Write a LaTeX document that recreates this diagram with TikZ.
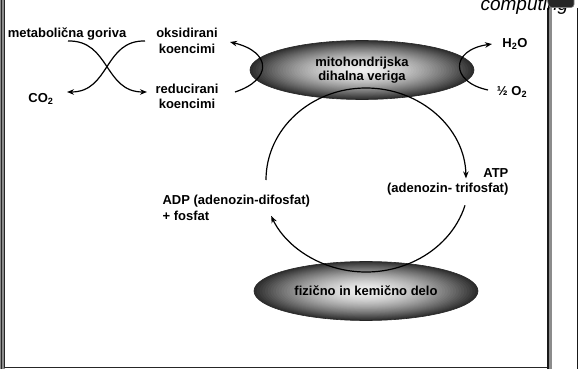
\documentclass[tikz,border=0pt]{standalone}
\usepackage{fontspec}
\setmainfont{Liberation Sans}
\usetikzlibrary{shapes,arrows.meta}

\tikzset{
  txt/.style={font=\fontsize{13}{15.5}\selectfont\bfseries, inner sep=0pt},
  oval/.style={ellipse, draw=black!85, line width=0.6pt,
    minimum width=224pt, minimum height=59pt, align=center,
    font=\fontsize{13}{13.5}\selectfont\bfseries}
}

\begin{document}
\begin{tikzpicture}[x=1pt, y=-1pt, line width=1.2pt, >={Stealth[length=7pt,width=5.5pt]}]
\useasboundingbox (0,0) rectangle (579,369);
\fill[white] (0,0) rectangle (579,369);

% slide frame
\fill[black!45] (0,-5) rectangle (5,369);
\draw[black!85, line width=1pt] (1,-5) -- (1,369);
\draw[black!85, line width=1pt] (4.5,-5) -- (4.5,367.5) -- (548,367.5);
\fill[black!45] (548,-5) rectangle (551.5,369);
\draw[black!90, line width=1.5pt] (548,8) -- (548,369);
\draw[black!90, line width=1pt] (577.8,8) -- (577.8,369);
\node[font=\fontsize{19}{19}\selectfont\itshape, anchor=base west, inner sep=0pt] (t) at (480,10.5) {computing};
\fill[black!85, draw=black!50, line width=0.6pt, rounded corners=3pt] (546,-6) -- (574,-6) -- (574,7.5) -- (549,7.5) -- cycle;

% shaded ovals
\coordinate (m1) at (362,70);
\coordinate (m2) at (366,291);
\foreach \m in {m1,m2} {
  \foreach \i in {0,...,40} {
    \pgfmathsetmacro{\s}{1-\i/41}
    \pgfmathsetmacro{\g}{6+76*\s^1.6}
    \pgfmathsetmacro{\rx}{112*\s}
    \pgfmathsetmacro{\ry}{29.5*\s}
    \fill[black!\g] (\m) ellipse[x radius=\rx pt, y radius=\ry pt];
  }
}

\node[txt, anchor=north] (1) at (67,27.6) {metabolična goriva};
\node[txt, anchor=north, align=center] (2) at (187,27.6) {oksidirani\\koencimi};
\node[txt, anchor=north, align=center] (3) at (187,83.3) {reducirani\\koencimi};
\node[txt, anchor=north] (4) at (41,92.5) {CO\textsubscript{2}};
\node[oval] (5) at (m1) {mitohondrijska\\dihalna veriga};
\node[txt, anchor=north] (6) at (515,37.6) {H\textsubscript{2}O};
\node[txt, anchor=north] (7) at (512,85.6) {½ O\textsubscript{2}};
\node[txt, anchor=north east, align=right] (8) at (509,167.5) {ATP\\(adenozin- trifosfat)};
\node[txt, anchor=north west, align=left] (9) at (162,194.5) {ADP (adenozin-difosfat)\\+ fosfat};
\node[oval] (10) at (m2) {fizično in kemično delo};

% arrow ends
\coordinate (c) at (366,180);
\coordinate (a) at (68,41);
\coordinate (b) at (147,92);
\coordinate (d) at (145,41);
\coordinate (e) at (67,92);
\coordinate (f) at (235,92);
\coordinate (g) at (230,42);
\coordinate (h) at (488,90);
\coordinate (k) at (492,44);

\draw[->] (a) .. controls (110,40) and (104,92) .. (b);
\draw[->] (d) .. controls (104,40) and (110,92) .. (e);
\draw[->] (f) .. controls (272,80) and (272,52) .. (g);
\draw[->] (h) .. controls (450,82) and (450,50) .. (k);

\draw[->] ([shift={(180:100pt and 92pt)}]c) arc[start angle=180, end angle=1, x radius=100pt, y radius=92pt];
\draw[->] ([shift={(-16:103pt and 92pt)}]c) arc[start angle=-16, end angle=-157, x radius=103pt, y radius=92pt];
\end{tikzpicture}
\end{document}
